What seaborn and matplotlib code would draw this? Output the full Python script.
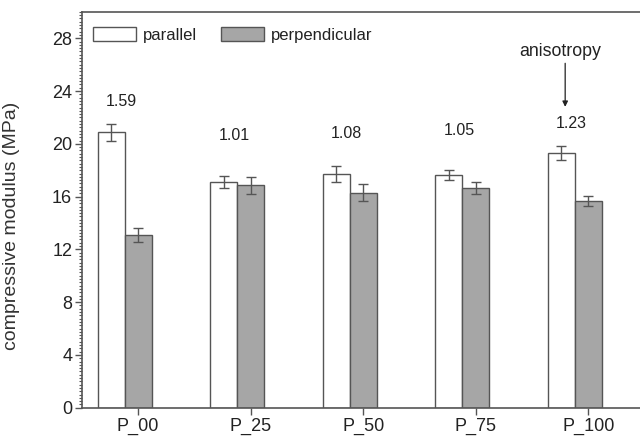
import pandas as pd
import numpy as np
import matplotlib
matplotlib.use('Agg')
import matplotlib.pyplot as plt
from matplotlib.ticker import MultipleLocator
import seaborn as sns

# Compressive modulus values
samples = ['P_00', 'P_25', 'P_50', 'P_75', 'P_100']
parallel = [20.86, 17.12, 17.73, 17.63, 19.30]
parallel_err = [0.63, 0.45, 0.60, 0.38, 0.50]
perpendicular = [13.08, 16.87, 16.29, 16.67, 15.68]
perpendicular_err = [0.55, 0.65, 0.63, 0.45, 0.40]
ratios = ['1.59', '1.01', '1.08', '1.05', '1.23']

sns.set_theme(style='white')
plt.rcParams['font.family'] = ['Liberation Sans', 'DejaVu Sans']

df = pd.DataFrame({
    'sample': samples * 2,
    'modulus': parallel + perpendicular,
    'direction': ['parallel'] * len(samples) + ['perpendicular'] * len(samples),
})

edge = '#555555'
txt = '#222222'
fig = plt.figure(figsize=(6.4, 4.38), dpi=100)
ax = fig.add_axes([0.128, 0.069, 0.872, 0.904])

sns.barplot(data=df, x='sample', y='modulus', hue='direction', order=samples,
            palette={'parallel': 'white', 'perpendicular': '#a6a6a6'},
            width=0.48, errorbar=None, edgecolor=edge, linewidth=1.0, ax=ax)

# error bars on top of each bar
for cont, errs in zip(ax.containers, [parallel_err, perpendicular_err]):
    xs = [b.get_x() + b.get_width() / 2 for b in cont]
    ys = [b.get_height() for b in cont]
    ax.errorbar(xs, ys, yerr=errs, fmt='none', ecolor=edge, elinewidth=1.0,
                capsize=3.5, capthick=1.0)

# anisotropy ratio labels
label_y = [23.2, 20.66, 20.8, 21.0, 21.55]
for i, (r, y) in enumerate(zip(ratios, label_y)):
    ax.text(i - 0.03, y, r, ha='center', va='center', fontsize=11.5, color=txt)

ax.text(3.87, 26.96, 'anisotropy', ha='center', va='center', fontsize=12.8, color=txt)
ax.annotate('', xy=(3.915, 22.8), xytext=(3.915, 26.1),
            arrowprops=dict(arrowstyle='-|>', color=txt, lw=0.9,
                            mutation_scale=8, shrinkA=0, shrinkB=0))

ax.set_xlim(-0.38, 4.58)
ax.set_ylim(0, 30)
ax.set_xticks([i + 0.12 for i in range(len(samples))])
ax.set_xticklabels(samples)
ax.set_yticks(range(0, 29, 4))
ax.yaxis.set_minor_locator(MultipleLocator(0.25))
ax.set_xlabel('')
ax.set_ylabel('compressive modulus (MPa)', fontsize=14, color='#333333')
ax.yaxis.set_label_coords(-0.111, 0.459)

ax.tick_params(axis='both', which='major', direction='out', length=5, width=1,
               color=edge, labelsize=13, labelcolor=txt, pad=2)
ax.tick_params(axis='y', which='minor', direction='out', length=2.5, width=0.8,
               color=edge, left=True)
ax.tick_params(axis='x', which='major', bottom=True)
ax.tick_params(axis='y', which='major', left=True)

for side in ['left', 'bottom', 'top']:
    ax.spines[side].set_color(edge)
    ax.spines[side].set_linewidth(1.2)
ax.spines['right'].set_visible(False)

leg = ax.legend(loc='upper left', bbox_to_anchor=(0.02, 0.962), ncol=2, frameon=False,
                fontsize=12, handlelength=2.6, handleheight=0.9, handletextpad=0.4,
                columnspacing=1.4, borderpad=0, borderaxespad=0)
for t in leg.get_texts():
    t.set_color(txt)

fig.savefig('out.png', dpi=100)
plt.close(fig)
